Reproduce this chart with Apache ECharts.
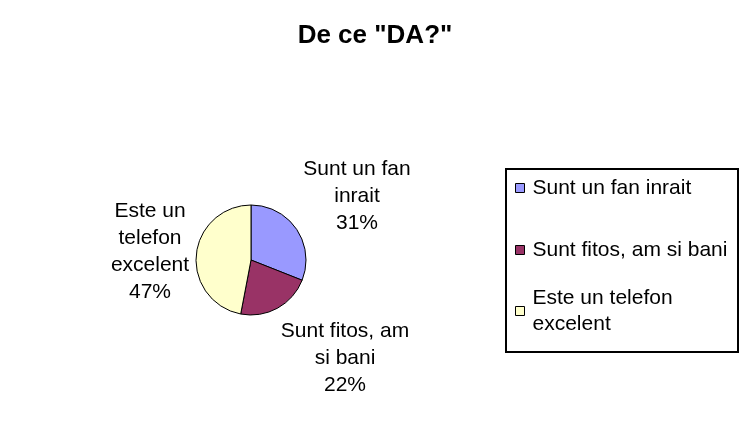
<!DOCTYPE html>
<html>
<head>
<meta charset="utf-8">
<script src="https://cdn.jsdelivr.net/npm/echarts@6/dist/echarts.min.js"></script>
<style>
html,body{margin:0;padding:0;background:#fff;}
#c{width:750px;height:433px;}
</style>
</head>
<body>
<div id="c"></div>
<script>
// ---- data ----
const titleText = 'De ce "DA?"';
const categories = ['Sunt un fan inrait', 'Sunt fitos, am si bani', 'Este un telefon excelent'];
const values = [31, 22, 47];
const labelTexts = ['Sunt un fan\ninrait', 'Sunt fitos, am\nsi bani', 'Este un\ntelefon\nexcelent'];
const legendTexts = ['Sunt un fan inrait', 'Sunt fitos, am si bani', 'Este un telefon\nexcelent'];
const colors = ['#9999FF', '#993366', '#FFFFCC'];

// ---- layout (not data) ----
const FONT = "'Liberation Sans', Arial, sans-serif";
const labelCenters = [[357, 196], [345, 358], [150, 252]];
const legendTops = [175, 237, 272];

const chart = echarts.init(document.getElementById('c'), null, {renderer: 'canvas'});

const legends = categories.map((name, i) => ({
  orient: 'vertical',
  left: 515,
  top: legendTops[i],
  padding: 0,
  icon: 'rect',
  itemWidth: 9,
  itemHeight: 9,
  selectedMode: false,
  data: [name],
  formatter: () => legendTexts[i],
  itemStyle: {borderColor: '#000', borderWidth: 1},
  textStyle: {
    fontFamily: FONT,
    fontSize: 21,
    color: '#000',
    lineHeight: 26,
    padding: i === 2 ? [26, 0, 0, 3] : [0, 0, 0, 3]
  }
}));

chart.setOption({
  backgroundColor: '#fff',
  animation: false,
  title: {
    text: titleText,
    left: 'center',
    top: 18,
    textStyle: {fontFamily: FONT, fontSize: 26, fontWeight: 'bold', color: '#000'}
  },
  legend: legends,
  graphic: [{
    type: 'rect',
    shape: {x: 506, y: 169, width: 232, height: 183},
    style: {fill: 'none', stroke: '#000', lineWidth: 2}
  }],
  series: [{
    type: 'pie',
    center: [251, 260],
    radius: 55,
    startAngle: 90,
    clockwise: true,
    avoidLabelOverlap: false,
    data: categories.map((name, i) => ({
      name: name,
      value: values[i],
      itemStyle: {color: colors[i]}
    })),
    itemStyle: {borderColor: '#000', borderWidth: 1},
    label: {
      show: true,
      position: 'outside',
      fontFamily: FONT,
      fontSize: 21,
      color: '#000',
      lineHeight: 27,
      align: 'center',
      formatter: (p) => labelTexts[p.dataIndex] + '\n' + Math.round(p.percent) + '%'
    },
    labelLine: {show: false},
    labelLayout: (p) => ({
      x: labelCenters[p.dataIndex][0],
      y: labelCenters[p.dataIndex][1],
      align: 'center',
      verticalAlign: 'middle'
    }),
    emphasis: {disabled: true}
  }]
});
</script>
</body>
</html>
